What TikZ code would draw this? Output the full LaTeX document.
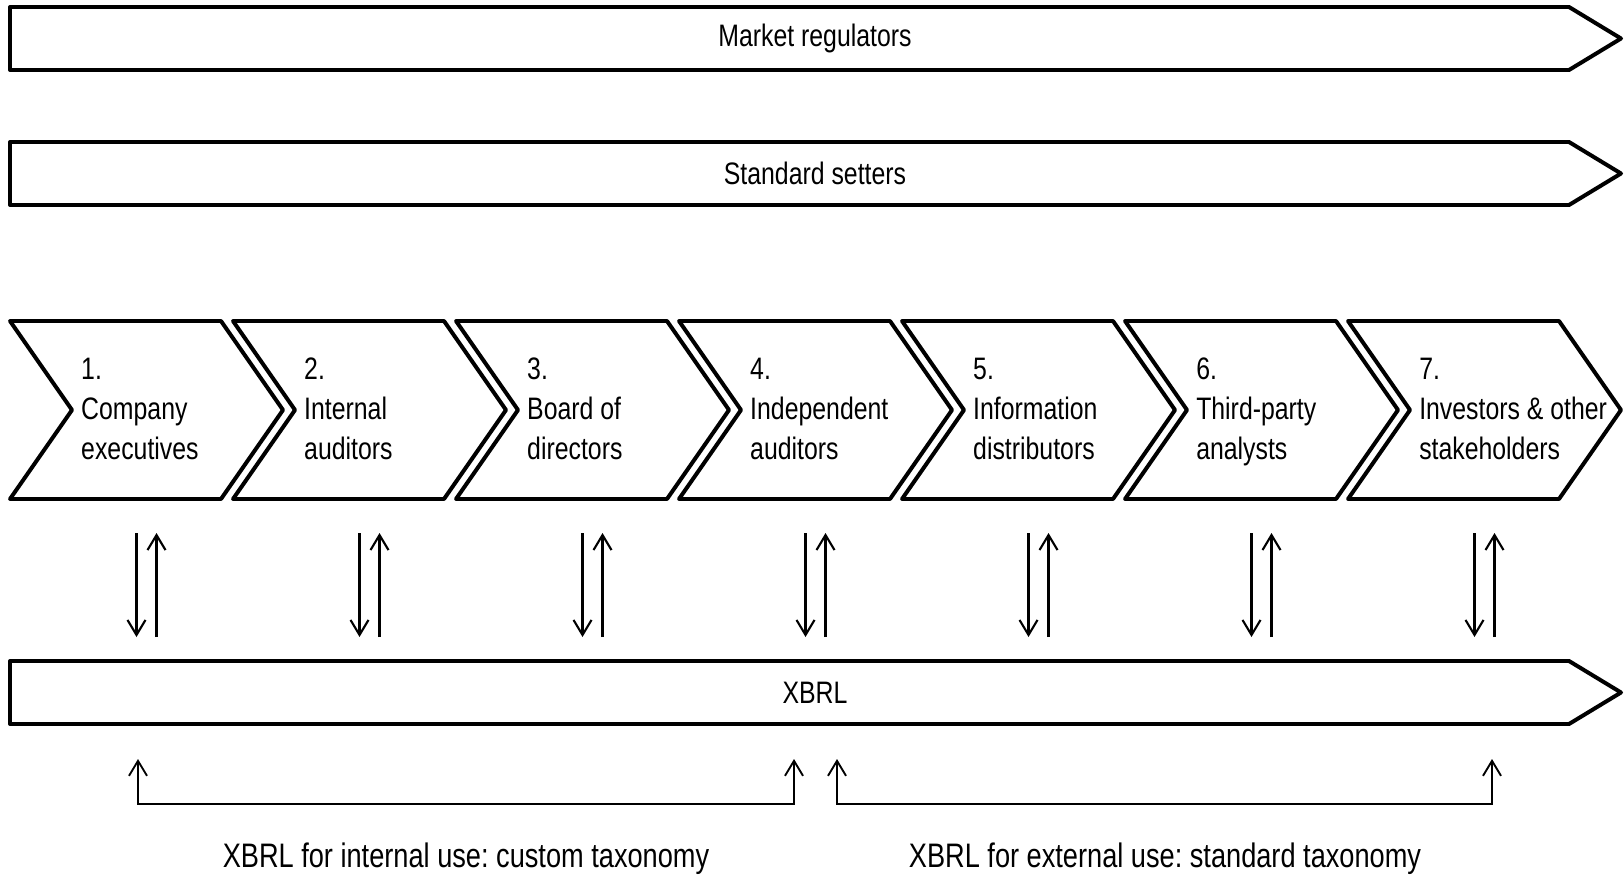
\documentclass[tikz,border=0pt]{standalone}
\usepackage{fontspec}
\setmainfont[FakeStretch=0.8]{Liberation Sans}
\usepackage{tikz}
\usetikzlibrary{calc,arrows.meta}
\definecolor{ink}{HTML}{000000}
\tikzset{
  band/.style={draw=ink, line width=3.4pt, line join=round, fill=white},
  chev/.style={draw=ink, line width=3.4pt, line join=round, fill=white},
  flow/.style={draw=ink, line width=1.8pt, -{Straight Barb[length=4.5mm,width=5.4mm]}},
  link/.style={draw=ink, line width=1.6pt, {Straight Barb[length=4.5mm,width=5.4mm]}-{Straight Barb[length=4.5mm,width=5.4mm]}},
  lab/.style={text=ink, font=\fontsize{26.5}{34}\selectfont\frenchspacing, inner sep=0pt},
  labl/.style={lab, align=left, anchor=north west},
  labb/.style={lab, font=\fontsize{29}{36}\selectfont\frenchspacing},
}
\begin{document}
\begin{tikzpicture}[x=0.03cm, y=-0.03cm]
  \useasboundingbox (0,0) rectangle (1624,878);
  % long bands
  \foreach \y/\nm/\txt in {7/mr/Market regulators, 142/ss/Standard setters, 661/xb/XBRL} {
    \draw[band] (10,\y) -- (1569,\y) -- (1621,\y+31.5) -- (1569,\y+63) -- (10,\y+63) -- cycle;
    \node[lab] (\nm) at (815,\y+31.5) {\txt};
  }
  % value chain
  \foreach \i/\txt in {1/{Company\\executives}, 2/{Internal\\auditors}, 3/{Board of\\directors},
      4/{Independent\\auditors}, 5/{Information\\distributors}, 6/{Third-party\\analysts},
      7/{Investors \& other\\stakeholders}} {
    \pgfmathsetmacro\xl{10+(\i-1)*223}
    \draw[chev] (\xl,321) -- ++(211,0) -- ++(62,89) -- ++(-62,89) -- ++(-211,0) -- ++(62,-89) -- cycle;
    \node[labl] (c\i) at (\xl+71,358) {\i.\\\txt};
    \coordinate (t\i) at (\xl+136.5,533);
    \coordinate (b\i) at (\xl+136.5,637);
    \draw[flow] ($(t\i)+(-10,0)$) -- ($(b\i)+(-10,0)$);
    \draw[flow] ($(b\i)+(10,0)$) -- ($(t\i)+(10,0)$);
  }
  % taxonomies
  \coordinate (ia) at (138,759);
  \coordinate (ib) at (794,759);
  \coordinate (ea) at (837,759);
  \coordinate (eb) at (1492,759);
  \draw[link] (ia) -- ++(0,45) -| (ib);
  \draw[link] (ea) -- ++(0,45) -| (eb);
  \node[labb] (int) at (466,859) {XBRL for internal use: custom taxonomy};
  \node[labb] (ext) at (1165,859) {XBRL for external use: standard taxonomy};
\end{tikzpicture}
\end{document}
